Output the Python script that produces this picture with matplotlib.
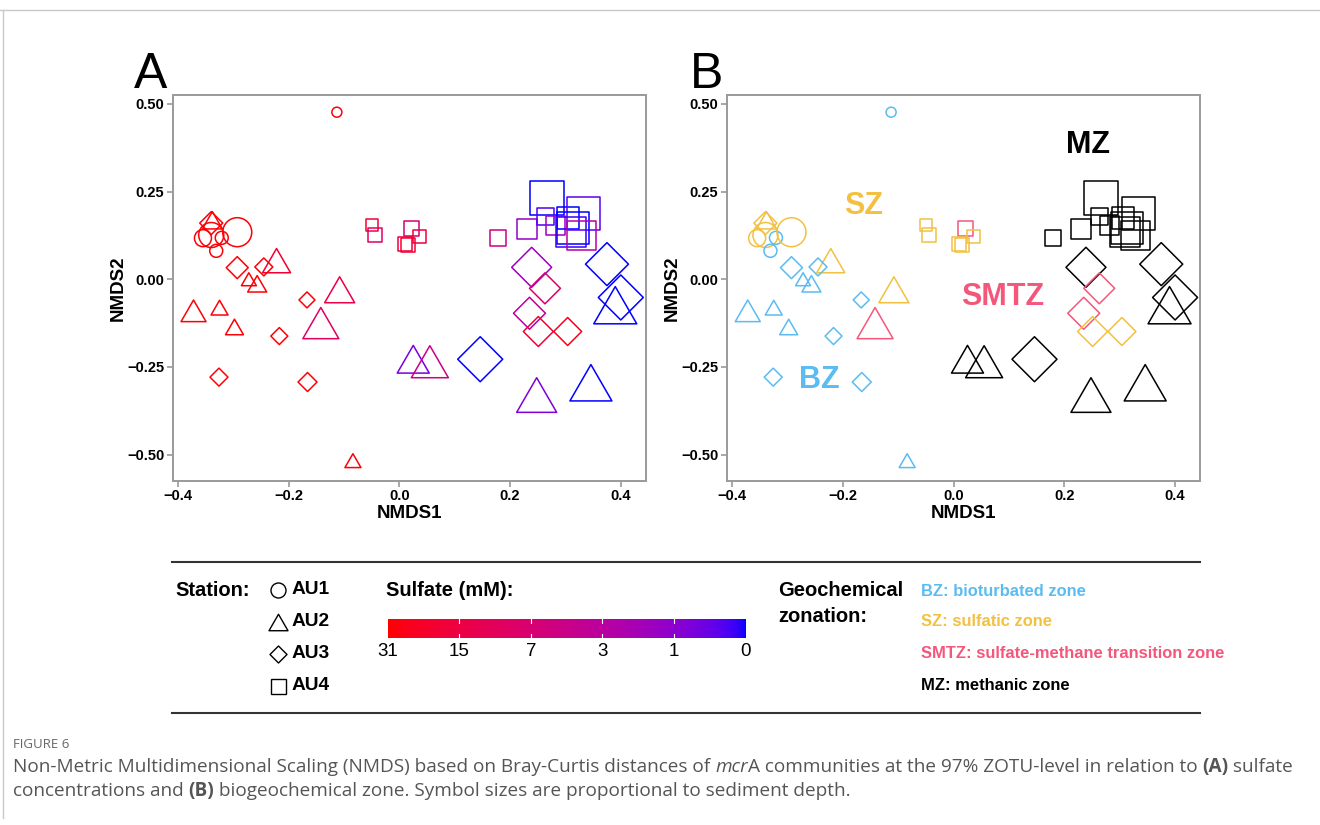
import numpy as np
import matplotlib
matplotlib.use("Agg")
import matplotlib.pyplot as plt
from matplotlib.path import Path
from matplotlib.lines import Line2D

plt.rcParams["font.family"] = ["Liberation Sans", "DejaVu Sans"]

# one entry per sediment sample
station = (["AU1"] * 6) + (["AU2"] * 15) + (["AU3"] * 15) + (["AU4"] * 16)
nmds1 = [-0.113, -0.355, -0.340, -0.321, -0.331, -0.293,
         -0.338, -0.222, -0.272, -0.257, -0.372, -0.325, -0.298, -0.108, -0.142, -0.084,
         0.025, 0.055, 0.248, 0.346, 0.390,
         -0.340, -0.293, -0.245, -0.167, -0.217, -0.326, -0.166, 0.239, 0.263, 0.235,
         0.251, 0.304, 0.375, 0.400, 0.146,
         -0.050, -0.044, 0.021, 0.036, 0.010, 0.015, 0.179, 0.230, 0.266, 0.264,
         0.282, 0.305, 0.333, 0.314, 0.310, 0.329]
nmds2 = [0.476, 0.117, 0.126, 0.118, 0.081, 0.134,
         0.168, 0.053, 0.000, -0.013, -0.090, -0.081, -0.136, -0.030, -0.125, -0.517,
         -0.228, -0.235, -0.330, -0.295, -0.074,
         0.160, 0.033, 0.035, -0.059, -0.162, -0.279, -0.293, 0.034, -0.026, -0.097,
         -0.149, -0.149, 0.043, -0.052, -0.228,
         0.155, 0.126, 0.145, 0.123, 0.100, 0.097, 0.117, 0.142, 0.231, 0.178,
         0.153, 0.174, 0.188, 0.147, 0.136, 0.126]
# relative sediment depth (symbol size)
depth = [10, 17, 25, 13, 13, 29,
         20, 28, 15, 19, 25, 17, 18, 30, 36, 16,
         32, 37, 40, 42, 43,
         23, 22, 18, 16, 17, 18, 19, 40, 31, 32,
         30, 28, 43, 45, 45,
         12, 14, 15, 13, 14, 14, 16, 20, 34, 17,
         19, 22, 33, 32, 30, 29]
sulfate = [28, 30, 30, 30, 30, 30,
           30, 20, 30, 30, 30, 30, 30, 14, 9, 30,
           0.6, 5, 0.7, 0, 0,
           30, 30, 30, 30, 30, 30, 30, 1.5, 8, 3,
           18, 25, 0, 0, 0,
           18, 9, 6, 16, 16, 20, 5, 1.2, 0, 0.2,
           1.5, 0, 0.3, 0, 0.1, 2.5]
zone = ["BZ", "SZ", "SZ", "BZ", "BZ", "SZ",
        "SZ", "SZ", "BZ", "BZ", "BZ", "BZ", "BZ", "SZ", "SMTZ", "BZ",
        "MZ", "MZ", "MZ", "MZ", "MZ",
        "SZ", "BZ", "BZ", "BZ", "BZ", "BZ", "BZ", "MZ", "SMTZ", "SMTZ",
        "SZ", "SZ", "MZ", "MZ", "MZ",
        "SZ", "SZ", "SMTZ", "SZ", "SZ", "SZ", "MZ", "MZ", "MZ", "MZ",
        "MZ", "MZ", "MZ", "MZ", "MZ", "MZ"]

stations = ["AU1", "AU2", "AU3", "AU4"]
sulfate_ticks = [31, 15, 7, 3, 1, 0]
zones = ["BZ", "SZ", "SMTZ", "MZ"]
zone_names = ["BZ: bioturbated zone", "SZ: sulfatic zone",
              "SMTZ: sulfate-methane transition zone", "MZ: methanic zone"]
zone_colors = {"BZ": "#5BBCF2", "SZ": "#F2C141", "SMTZ": "#F5577B", "MZ": "#000000"}
zone_label_pos = {"SZ": (-0.163, 0.21), "MZ": (0.242, 0.383),
                  "SMTZ": (0.089, -0.052), "BZ": (-0.242, -0.287)}

# markers whose bounding box width equals the marker size
tri = Path([(-1, -0.866), (1, -0.866), (0, 0.866), (-1, -0.866)],
           [Path.MOVETO, Path.LINETO, Path.LINETO, Path.CLOSEPOLY])
dia = Path([(0, 1), (1, 0), (0, -1), (-1, 0), (0, 1)],
           [Path.MOVETO, Path.LINETO, Path.LINETO, Path.LINETO, Path.CLOSEPOLY])
marker_of = {"AU1": "o", "AU2": tri, "AU3": dia, "AU4": "s"}


# red -> blue gradient interpolated in CIELAB (like ggplot)
def srgb_to_lab(c):
    c = np.asarray(c, float)
    lin = np.where(c <= 0.04045, c / 12.92, ((c + 0.055) / 1.055) ** 2.4)
    m = np.array([[0.4124, 0.3576, 0.1805], [0.2126, 0.7152, 0.0722], [0.0193, 0.1192, 0.9505]])
    xyz = m @ lin / np.array([0.95047, 1.0, 1.08883])
    f = np.where(xyz > 0.008856, np.cbrt(xyz), 7.787 * xyz + 16 / 116)
    return np.array([116 * f[1] - 16, 500 * (f[0] - f[1]), 200 * (f[1] - f[2])])


def lab_to_srgb(lab):
    fy = (lab[0] + 16) / 116
    f = np.array([fy + lab[1] / 500, fy, fy - lab[2] / 200])
    xyz = np.where(f ** 3 > 0.008856, f ** 3, (f - 16 / 116) / 7.787) * np.array([0.95047, 1.0, 1.08883])
    mi = np.array([[3.2406, -1.5372, -0.4986], [-0.9689, 1.8758, 0.0415], [0.0557, -0.2040, 1.0570]])
    lin = np.clip(mi @ xyz, 0, 1)
    c = np.where(lin <= 0.0031308, 12.92 * lin, 1.055 * lin ** (1 / 2.4) - 0.055)
    return np.clip(c, 0, 1)


LAB_HI = srgb_to_lab([1, 0, 0])
LAB_LO = srgb_to_lab([0, 0, 1])


def sulfate_color(v):
    t = np.log2(v + 1) / 5.0
    return lab_to_srgb(LAB_LO + (LAB_HI - LAB_LO) * min(max(t, 0), 1))


W, H = 1320, 825
fig = plt.figure(figsize=(W / 100, H / 100), dpi=100)


def fx(px):
    return px / W


def fy(py):
    return 1 - py / H


def px_size(w):
    # symbol width in pixels -> scatter area in pt^2
    return (w * 0.72) ** 2


def style_axes(ax):
    ax.set_xlim(-0.41, 0.445)
    ax.set_ylim(-0.575, 0.525)
    ax.set_xticks([-0.4, -0.2, 0.0, 0.2, 0.4])
    ax.set_xticklabels(["\u22120.4", "\u22120.2", "0.0", "0.2", "0.4"])
    ax.set_yticks([0.5, 0.25, 0.0, -0.25, -0.5])
    ax.set_yticklabels(["0.50", "0.25", "0.00", "\u22120.25", "\u22120.50"])
    for sp in ax.spines.values():
        sp.set_color("#9a9a9a")
        sp.set_linewidth(1.4)
    ax.tick_params(colors="#9a9a9a", width=1.2, length=4, labelcolor="black", labelsize=10.5, pad=2)
    for lab in ax.get_xticklabels() + ax.get_yticklabels():
        lab.set_fontweight("bold")
    ax.set_xlabel("NMDS1", fontsize=13.5, fontweight="bold", labelpad=1)
    ax.set_ylabel("NMDS2", fontsize=13.5, fontweight="bold", labelpad=0)


ax_a = fig.add_axes([fx(172.5), fy(481), fx(645.7) - fx(172.5), fy(95) - fy(481)])
ax_b = fig.add_axes([fx(726.7), fy(481), fx(1200) - fx(726.7), fy(95) - fy(481)])

for st in stations:
    idx = [i for i, s in enumerate(station) if s == st]
    xs = [nmds1[i] for i in idx]
    ys = [nmds2[i] for i in idx]
    ss = [px_size(depth[i]) for i in idx]
    ax_a.scatter(xs, ys, s=ss, marker=marker_of[st], facecolors="none",
                 edgecolors=[sulfate_color(sulfate[i]) for i in idx], linewidths=1.1)
    ax_b.scatter(xs, ys, s=ss, marker=marker_of[st], facecolors="none",
                 edgecolors=[zone_colors[zone[i]] for i in idx], linewidths=1.1)

for z, (zx, zy) in zone_label_pos.items():
    ax_b.text(zx, zy, z, color=zone_colors[z], fontsize=22, fontweight="bold",
              ha="center", va="center")

style_axes(ax_a)
style_axes(ax_b)

fig.text(fx(134), fy(88), "A", fontsize=36, ha="left", va="baseline")
fig.text(fx(690), fy(88), "B", fontsize=36, ha="left", va="baseline")

# legend block
for yy in (562, 713):
    fig.add_artist(Line2D([fx(172), fx(1200)], [fy(yy), fy(yy)], color="#333333", lw=1.5))

fig.text(fx(175), fy(590), "Station:", fontsize=14.5, fontweight="bold", ha="left", va="center")
leg_sizes = [15, 19, 17, 15]
for k, st in enumerate(stations):
    yy = 590 + 32 * k
    fig.add_artist(Line2D([fx(278)], [fy(yy)], marker=marker_of[st], markersize=leg_sizes[k] * 0.72,
                          markerfacecolor="none", markeredgecolor="black", markeredgewidth=1.0,
                          linestyle="none"))
    fig.text(fx(292), fy(yy), st, fontsize=13.8, fontweight="bold", ha="left", va="center")

fig.text(fx(386), fy(590), "Sulfate (mM):", fontsize=14.5, fontweight="bold", ha="left", va="center")
cax = fig.add_axes([fx(388), fy(638), fx(745) - fx(388), fy(619) - fy(638)])
grad_t = np.linspace(5, 0, 300)
grad = np.array([sulfate_color(2 ** t - 1) for t in grad_t])[None, :, :]
cax.imshow(grad, aspect="auto", extent=[0, 5, 0, 1], interpolation="bilinear")
cax.set_xlim(0, 5)
cax.set_ylim(0, 1)
cax.axis("off")
for k, v in enumerate(sulfate_ticks):
    pos = 5 - np.log2(v + 1)
    if 0 < pos < 5:
        cax.plot([pos, pos], [0, 0.2], color="white", lw=0.8)
        cax.plot([pos, pos], [0.8, 1], color="white", lw=0.8)
    fig.text(fx(388 + (745 - 388) * pos / 5), fy(652), str(v), fontsize=13.5, ha="center", va="center")

fig.text(fx(778), fy(591), "Geochemical", fontsize=14.5, fontweight="bold", ha="left", va="center")
fig.text(fx(778), fy(617), "zonation:", fontsize=14.5, fontweight="bold", ha="left", va="center")
for k, (z, name) in enumerate(zip(zones, zone_names)):
    fig.text(fx(921), fy([592, 621, 654, 685][k]), name, color=zone_colors[z],
             fontsize=11.9, fontweight="bold", ha="left", va="center")

# page frame
fig.add_artist(Line2D([0, 1], [fy(10), fy(10)], color="#c8c8c8", lw=1.0))
fig.add_artist(Line2D([fx(3), fx(3)], [fy(10), fy(818)], color="#c8c8c8", lw=1.0))

# caption
cap_font = ["Open Sans", "DejaVu Sans"]
cap_color = "#555555"
fig.text(fx(13), fy(745), "FIGURE 6", fontsize=9.5, color="#666666", family=cap_font, va="center")

renderer = fig.canvas.get_renderer()


def piece_width(s, **kw):
    a = fig.text(0, 0, "|" + s + "|", **kw)
    b = fig.text(0, 0, "||", **kw)
    w = a.get_window_extent(renderer).width - b.get_window_extent(renderer).width
    a.remove()
    b.remove()
    return w


def rich_line(x_px, y_px, pieces, size):
    x = x_px
    for s, kw in pieces:
        opts = dict(fontsize=size, color=cap_color, family=cap_font, va="center")
        opts.update(kw)
        fig.text(fx(x), fy(y_px), s, ha="left", **opts)
        x += piece_width(s, **opts)


cap_size = 13.65
rich_line(13, 767, [
    ("Non-Metric Multidimensional Scaling (NMDS) based on Bray-Curtis distances of ", {}),
    ("mcr", {"style": "italic"}),
    ("A communities at the 97% ZOTU-level in relation to ", {}),
    ("(A)", {"fontweight": "bold"}),
    (" sulfate", {}),
], cap_size)
rich_line(13, 791, [
    ("concentrations and ", {}),
    ("(B)", {"fontweight": "bold"}),
    (" biogeochemical zone. Symbol sizes are proportional to sediment depth.", {}),
], cap_size)

fig.savefig("out.png", dpi=100)
